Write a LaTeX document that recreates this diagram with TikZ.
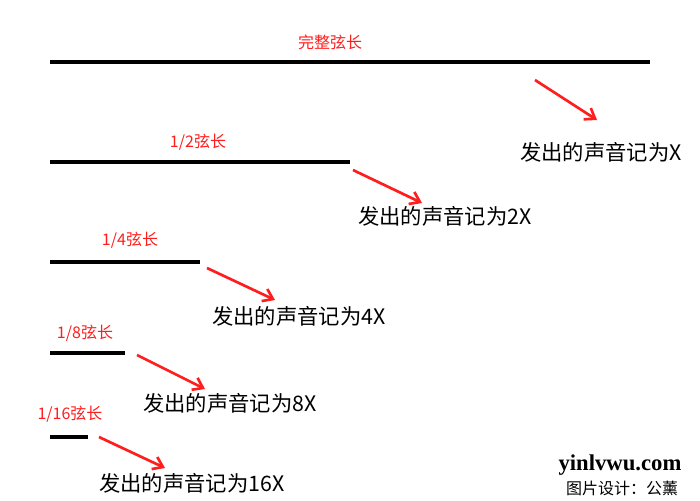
\documentclass[tikz,border=0pt]{standalone}
\usepackage{fontspec}
\newfontfamily\cjk{Noto Sans CJK SC}
\newfontfamily\wmfont{Liberation Serif}
\usetikzlibrary{arrows.meta}
\definecolor{rd}{RGB}{255,30,30}
\tikzset{
  string/.style={line width=2.6pt, black},
  redlbl/.style={text=rd, font=\cjk\fontsize{12}{12}\selectfont, inner sep=0pt},
  sound/.style={font=\cjk\fontsize{16}{16}\selectfont, inner sep=0pt, anchor=west},
  redarr/.style={draw=rd, line width=2pt, -{Straight Barb[length=7pt,width=10pt,line width=2pt]}}
}
\begin{document}
\begin{tikzpicture}[x=0.75pt,y=-0.75pt]
\useasboundingbox[fill=white] (0,0) rectangle (700,500);
% strings
\coordinate (s1a) at (50,62);  \coordinate (s1b) at (650,62);
\coordinate (s2a) at (50,162); \coordinate (s2b) at (350,162);
\coordinate (s3a) at (50,262); \coordinate (s3b) at (200,262);
\coordinate (s4a) at (50,353); \coordinate (s4b) at (125,353);
\coordinate (s5a) at (50,437); \coordinate (s5b) at (88,437);
\draw[string] (s1a) -- (s1b);
\draw[string] (s2a) -- (s2b);
\draw[string] (s3a) -- (s3b);
\draw[string] (s4a) -- (s4b);
\draw[string] (s5a) -- (s5b);
% red labels
\node[redlbl] (l1) at (330,42) {完整弦长};
\node[redlbl] (l2) at (198,142) {1/2弦长};
\node[redlbl] (l3) at (130,240) {1/4弦长};
\node[redlbl] (l4) at (85,333) {1/8弦长};
\node[redlbl] (l5) at (70,414) {1/16弦长};
% sound texts
\node[sound] (t1) at (520,152) {发出的声音记为X};
\node[sound] (t2) at (358,216) {发出的声音记为2X};
\node[sound] (t3) at (212,316) {发出的声音记为4X};
\node[sound] (t4) at (143,403) {发出的声音记为8X};
\node[sound] (t5) at (99,483) {发出的声音记为16X};
% arrows
\coordinate (a1) at (535,80);  \coordinate (b1) at (597,120);
\coordinate (a2) at (353,170); \coordinate (b2) at (422,203);
\coordinate (a3) at (207,268); \coordinate (b3) at (275,300);
\coordinate (a4) at (137,355); \coordinate (b4) at (205,389);
\coordinate (a5) at (99,437);  \coordinate (b5) at (165,468);
\draw[redarr] (a1) -- (b1);
\draw[redarr] (a2) -- (b2);
\draw[redarr] (a3) -- (b3);
\draw[redarr] (a4) -- (b4);
\draw[redarr] (a5) -- (b5);
% watermark
\node[font=\wmfont\bfseries\fontsize{17}{17}\selectfont, inner sep=0pt] (wm1) at (620,465) {yinlvwu.com};
\node[font=\cjk\fontsize{12}{12}\selectfont, inner sep=0pt] (wm2) at (622,488) {图片设计：公薰};
\end{tikzpicture}
\end{document}
